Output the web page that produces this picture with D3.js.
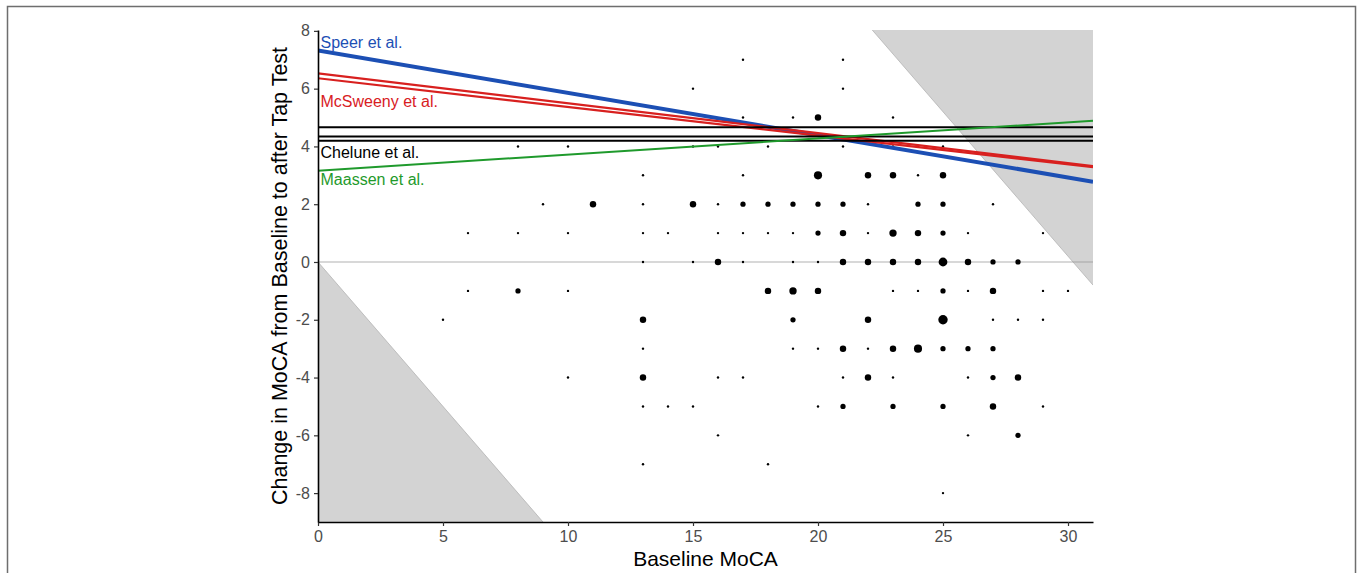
<!DOCTYPE html>
<html>
<head>
<meta charset="utf-8">
<script src="https://cdn.jsdelivr.net/npm/d3@7"></script>
<style>
  html, body { margin: 0; padding: 0; background: #fff; }
  svg { display: block; font-family: "Liberation Sans", Arial, sans-serif; }
</style>
</head>
<body>
<div id="host"></div>
<script>
// Baseline MoCA, change in MoCA and how many patients share that cell (geom_count style)
const baselineMoca = [
  17, 21,
  15, 21,
  17, 19, 20, 23,
  8, 10, 15, 16, 18, 21, 23, 24, 25,
  13, 17, 20, 22, 23, 24, 25,
  9, 11, 13, 15, 16, 17, 18, 19, 20, 21, 22, 24, 25, 27,
  6, 8, 10, 13, 14, 16, 17, 18, 19, 20, 21, 22, 23, 24, 25, 26, 29,
  13, 15, 16, 17, 19, 20, 21, 22, 23, 24, 25, 26, 27, 28,
  6, 8, 10, 18, 19, 20, 23, 24, 25, 26, 27, 29, 30,
  5, 13, 19, 22, 25, 27, 28, 29,
  13, 19, 20, 21, 22, 23, 24, 25, 26, 27,
  10, 13, 16, 17, 21, 22, 23, 26, 27, 28,
  13, 14, 15, 20, 21, 23, 25, 27, 29,
  16, 26, 28,
  13, 18,
  25
];
const changeMoca = [
  7, 7,
  6, 6,
  5, 5, 5, 5,
  4, 4, 4, 4, 4, 4, 4, 4, 4,
  3, 3, 3, 3, 3, 3, 3,
  2, 2, 2, 2, 2, 2, 2, 2, 2, 2, 2, 2, 2, 2,
  1, 1, 1, 1, 1, 1, 1, 1, 1, 1, 1, 1, 1, 1, 1, 1, 1,
  0, 0, 0, 0, 0, 0, 0, 0, 0, 0, 0, 0, 0, 0,
  -1, -1, -1, -1, -1, -1, -1, -1, -1, -1, -1, -1, -1,
  -2, -2, -2, -2, -2, -2, -2, -2,
  -3, -3, -3, -3, -3, -3, -3, -3, -3, -3,
  -4, -4, -4, -4, -4, -4, -4, -4, -4, -4,
  -5, -5, -5, -5, -5, -5, -5, -5, -5,
  -6, -6, -6,
  -7, -7,
  -8
];
const counts = [
  1, 1,
  1, 1,
  1, 1, 3, 1,
  1, 1, 1, 1, 1, 1, 1, 1, 1,
  1, 1, 5, 3, 3, 1, 3,
  1, 3, 1, 3, 1, 2, 2, 2, 2, 2, 1, 2, 2, 1,
  1, 1, 1, 1, 1, 1, 1, 1, 1, 2, 3, 1, 4, 3, 2, 1, 1,
  1, 1, 3, 1, 1, 1, 3, 3, 3, 3, 6, 3, 2, 2,
  1, 2, 1, 3, 4, 3, 1, 1, 2, 1, 3, 1, 1,
  1, 3, 2, 3, 7, 1, 1, 1,
  1, 1, 1, 3, 1, 3, 5, 2, 2, 2,
  1, 3, 1, 1, 1, 3, 1, 1, 2, 3,
  1, 1, 1, 1, 2, 2, 2, 3, 1,
  1, 1, 2,
  1, 1,
  1
];

// Published reference lines: value at baseline 0 and at baseline 31
const lineNames = ['Speer et al.', 'McSweeny et al.', 'McSweeny et al.', 'Chelune et al.', 'Chelune et al.', 'Chelune et al.', 'Maassen et al.'];
const lineStart = [7.32, 6.53, 6.36, 4.66, 4.34, 4.20, 3.16];
const lineEnd = [2.78, 3.32, 3.28, 4.66, 4.34, 4.20, 4.89];

// Labels next to the y axis
const labelNames = ['Speer et al.', 'McSweeny et al.', 'Chelune et al.', 'Maassen et al.'];
const labelY = [7.6, 5.55, 3.8, 2.87];

const groupColor = {
  'Speer et al.': '#1c4fb4',
  'McSweeny et al.': '#d8201f',
  'Chelune et al.': '#000000',
  'Maassen et al.': '#1f9a2c'
};
const groupWidth = {
  'Speer et al.': 4,
  'McSweeny et al.': 2.2,
  'Chelune et al.': 2,
  'Maassen et al.': 2
};

// Impossible zones: change < -baseline, change > 30.2 - baseline
const lowerBoundIntercept = 0;
const upperBoundIntercept = 30.2;

const xTicks = [0, 5, 10, 15, 20, 25, 30];
const yTicks = [-8, -6, -4, -2, 0, 2, 4, 6, 8];
const xDomain = [0, 31];
const yDomain = [-9, 8.03];

const width = 1357, height = 573;
const margin = {top: 30, right: 264, bottom: 51, left: 318};
const innerW = width - margin.left - margin.right;
const innerH = height - margin.top - margin.bottom;

const svg = d3.select('#host').append('svg')
  .attr('width', width)
  .attr('height', height);

// Rahmen ums ganze Bild
svg.append('rect')
  .attr('x', 7.5).attr('y', 6.5)
  .attr('width', 1348).attr('height', 580)
  .attr('fill', 'none')
  .attr('stroke', '#6e6e6e')
  .attr('stroke-width', 1.5);

const g = svg.append('g').attr('transform', `translate(${margin.left},${margin.top})`);

const x = d3.scaleLinear().domain(xDomain).range([0, innerW]);
const y = d3.scaleLinear().domain(yDomain).range([innerH, 0]);

const maxN = d3.max(counts);
const rScale = d3.scaleLinear().domain([0, 1]).range([1.2, 4.7]);
const radius = n => rScale(Math.sqrt((n - 1) / (maxN - 1)));

g.append('clipPath').attr('id', 'panel')
  .append('rect').attr('width', innerW).attr('height', innerH);

const panel = g.append('g').attr('clip-path', 'url(#panel)');

// grey triangles
const lowerPoly = [
  [0, lowerBoundIntercept],
  [0, yDomain[0]],
  [lowerBoundIntercept - yDomain[0], yDomain[0]]
];
const upperPoly = [
  [upperBoundIntercept - yDomain[1], yDomain[1]],
  [xDomain[1], yDomain[1]],
  [xDomain[1], upperBoundIntercept - xDomain[1]]
];
const polyLine = d3.line().x(d => x(d[0])).y(d => y(d[1]));
[lowerPoly, upperPoly].forEach(p => {
  panel.append('path')
    .attr('d', polyLine(p) + 'Z')
    .attr('fill', '#d3d3d3');
});
panel.append('path')
  .attr('d', polyLine([lowerPoly[0], lowerPoly[2]]))
  .attr('stroke', '#b4b4b4').attr('stroke-width', 0.8).attr('fill', 'none');
panel.append('path')
  .attr('d', polyLine([upperPoly[0], upperPoly[2]]))
  .attr('stroke', '#b4b4b4').attr('stroke-width', 0.8).attr('fill', 'none');

// Nulllinie
panel.append('line')
  .attr('x1', 0).attr('x2', innerW)
  .attr('y1', y(0)).attr('y2', y(0))
  .attr('stroke', '#999')
  .attr('stroke-opacity', 0.5)
  .attr('stroke-width', 1.3);

// Punkte
const points = baselineMoca.map((b, i) => ({x: b, y: changeMoca[i], n: counts[i]}));
panel.append('g')
  .selectAll('circle')
  .data(points)
  .join('circle')
  .attr('cx', d => x(d.x))
  .attr('cy', d => y(d.y))
  .attr('r', d => radius(d.n))
  .attr('fill', '#000');

// Referenzlinien
const lines = lineNames.map((name, i) => ({name, start: lineStart[i], end: lineEnd[i]}));
panel.append('g')
  .selectAll('line')
  .data(lines)
  .join('line')
  .attr('x1', x(xDomain[0]))
  .attr('x2', x(xDomain[1]))
  .attr('y1', d => y(d.start))
  .attr('y2', d => y(d.end))
  .attr('stroke', d => groupColor[d.name])
  .attr('stroke-width', d => groupWidth[d.name]);

// Beschriftungen
g.append('g')
  .selectAll('text')
  .data(labelNames)
  .join('text')
  .attr('x', x(0.1))
  .attr('y', (d, i) => y(labelY[i]))
  .attr('dy', '0.35em')
  .attr('fill', d => groupColor[d])
  .attr('font-size', 16)
  .text(d => d);

// Achsen (Bindestrich statt Minuszeichen wie im Original)
const tickFmt = d => String(d);
const xAxis = d3.axisBottom(x).tickValues(xTicks).tickFormat(tickFmt).tickSize(4).tickSizeOuter(0).tickPadding(5);
const yAxis = d3.axisLeft(y).tickValues(yTicks).tickFormat(tickFmt).tickSize(4).tickSizeOuter(0).tickPadding(4);

const xAxisG = g.append('g').attr('transform', `translate(0,${innerH})`).call(xAxis);
const yAxisG = g.append('g').call(yAxis);

[xAxisG, yAxisG].forEach(a => {
  a.select('.domain').attr('stroke', '#000').attr('stroke-width', 1.6);
  a.selectAll('.tick line').attr('stroke', '#333').attr('stroke-width', 1.2);
  a.selectAll('.tick text')
    .attr('fill', '#4d4d4d')
    .attr('font-size', 16)
    .attr('font-family', '"Liberation Sans", Arial, sans-serif');
});

// X-Achsentitel
g.append('text')
  .attr('x', innerW / 2)
  .attr('y', innerH + 44)
  .attr('text-anchor', 'middle')
  .attr('font-size', 21)
  .attr('fill', '#000')
  .text('Baseline MoCA');

// Y-Achsentitel
g.append('text')
  .attr('transform', 'rotate(-90)')
  .attr('x', -innerH / 2)
  .attr('y', -31)
  .attr('text-anchor', 'middle')
  .attr('font-size', 21.5)
  .attr('fill', '#000')
  .text('Change in MoCA from Baseline to after Tap Test');
</script>
</body>
</html>
